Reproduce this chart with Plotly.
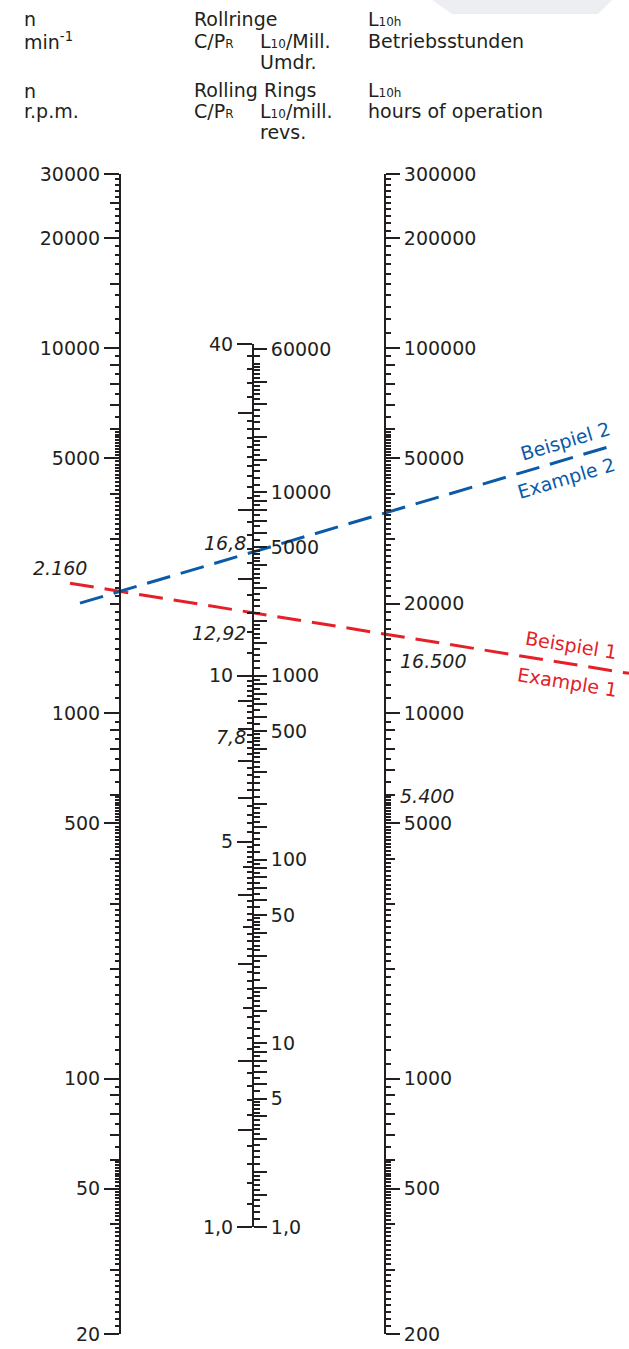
import math
import plotly.graph_objects as go

W, H = 629, 1349
INK = "#231f20"
RED = "#e42129"
BLUE = "#0a5aa8"
FONT = "DejaVu Sans"
FS = 19

# ---------------- data ----------------
n_range = [20, 30000]          # n  [min^-1]
l10h_range = [200, 300000]     # L10h [h]
cp_range = [1, 40]             # C/P_R
l10_range = [1, 64000]         # L10 [mill. revs] = (C/P)^3

n_ticks = [20, 50, 100, 500, 1000, 5000, 10000, 20000, 30000]
n_tick_text = ["20", "50", "100", "500", "1000", "5000", "10000", "20000", "30000"]
l10h_ticks = [200, 500, 1000, 5000, 10000, 20000, 50000, 100000, 200000, 300000]
l10h_tick_text = ["200", "500", "1000", "5000", "10000", "20000", "50000", "100000", "200000", "300000"]
cp_ticks = [1, 5, 10, 40]
cp_tick_text = ["1,0", "5", "10", "40"]
l10_ticks = [1, 5, 10, 50, 100, 500, 1000, 5000, 10000, 60000]
l10_tick_text = ["1,0", "5", "10", "50", "100", "500", "1000", "5000", "10000", "60000"]

# secondary scale marks
n_mid_mult = [2, 3, 4, 6, 7, 8, 9]
n_mid_extra = [15000, 25000]
cp_long_unlabelled = [1.5, 2, 3, 4, 6, 7, 8, 9, 15, 20, 30]
cp_mid = [2.5, 3.5, 4.5]
l10_long_mult = [1.5, 2, 3, 4, 6, 7, 8, 9]

# worked examples
ex_top = ["Beispiel 1", "Beispiel 2"]
ex_bottom = ["Example 1", "Example 2"]
ex_n = [2160, 2160]
ex_cp = [12.92, 16.8]
ex_l10h = [16500, 35400]
ex_colors = [RED, BLUE]
n_marks = [2160]
n_mark_text = ["2.160"]
cp_marks = [16.8, 12.92, 7.8]
cp_mark_text = ["16,8", "12,92", "7,8"]
l10h_marks = [16500, 5400]
l10h_mark_text = ["16.500", "5.400"]

# ---------------- layout geometry ----------------
X_L, X_M, X_R = 120 / W, 253 / W, 385 / W
DOM_LR = [1 - 1334 / H, 1 - 174 / H]
DOM_M = [1 - 1227 / H, 1 - 344 / H]
LINE_X0 = [70 / W, 80 / W]
LINE_X1 = [629 / W, 617 / W]
TOP_LABEL_X = [571 / W, 565 / W]
BOT_LABEL_X = [567 / W, 566 / W]


def steps(a, b, s):
    out, k = [], 0
    while True:
        v = round(a + k * s, 6)
        if v > b + 1e-9:
            break
        out.append(v)
        k += 1
    return out


def ruler(lo, hi, pattern):
    vals = set()
    d = 10 ** math.floor(math.log10(lo))
    while d <= hi:
        for m0, m1, st in pattern:
            for m in steps(m0, m1, st):
                v = round(m * d, 6)
                if lo - 1e-9 <= v <= hi + 1e-9:
                    vals.add(v)
        d *= 10
    return sorted(vals)


def minus(a, *others):
    excl = set()
    for o in others:
        excl |= set(round(x, 6) for x in o)
    return sorted(v for v in set(round(x, 6) for x in a) if v not in excl)


def mults(lo, hi, ms):
    return ruler(lo, hi, [(m, m, 1) for m in ms])


fine_pat = [(1, 6, 0.1), (6, 10, 0.5)]
n_mid = minus(mults(*n_range, n_mid_mult) + n_mid_extra, n_ticks)
n_small = minus(ruler(*n_range, fine_pat), n_ticks, n_mid)
h_mid = minus(mults(*l10h_range, n_mid_mult), l10h_ticks)
h_small = minus(ruler(*l10h_range, fine_pat), l10h_ticks, h_mid)
cp_small = minus(steps(1, 5, 0.1) + steps(5, 10, 0.2) + steps(10, 20, 1) + steps(20, 30, 1) + steps(30, 40, 2),
                 cp_ticks, cp_long_unlabelled, cp_mid)
l10_long_un = minus(mults(*l10_range, l10_long_mult), l10_ticks)
l10_small = minus(ruler(*l10_range, [(1, 2, 0.1), (2, 5, 0.2), (5, 10, 0.5)]), l10_ticks, l10_long_un)


def lg(r):
    return [math.log10(r[0]), math.log10(r[1])]


def axis(rng, vals, text, length, side, pos, base=None, domain=None, line=False, width=2):
    d = dict(type="log", range=lg(rng), anchor="free", position=pos, side=side,
             tickmode="array", tickvals=vals, ticks="outside", ticklen=length, tickwidth=width,
             tickcolor=INK, showgrid=False, zeroline=False, showline=line, linecolor=INK,
             linewidth=2, fixedrange=True, showticklabels=text is not None, automargin=False,
             tickfont=dict(family=FONT, size=FS, color=INK))
    if text is not None:
        d["ticktext"] = text
    if base:
        d["overlaying"] = base
    if domain:
        d["domain"] = domain
    return d


fig = go.Figure()
axes = {
    "yaxis": axis(n_range, n_ticks, n_tick_text, 15, "left", X_L, domain=DOM_LR, line=True),
    "yaxis2": axis(n_range, n_mid, None, 10, "left", X_L, base="y"),
    "yaxis3": axis(n_range, n_small, None, 5, "left", X_L, base="y", width=1.8),
    "yaxis4": axis(l10h_range, l10h_ticks, l10h_tick_text, 14, "right", X_R, base="y", line=True),
    "yaxis5": axis(l10h_range, h_mid, None, 9, "right", X_R, base="y"),
    "yaxis6": axis(l10h_range, h_small, None, 5, "right", X_R, base="y", width=1.8),
    "yaxis7": axis(cp_range, cp_ticks, cp_tick_text, 15, "left", X_M, domain=DOM_M, line=True),
    "yaxis8": axis(cp_range, cp_long_unlabelled, None, 15, "left", X_M, base="y7"),
    "yaxis9": axis(cp_range, cp_mid, None, 10, "left", X_M, base="y7"),
    "yaxis10": axis(cp_range, cp_small, None, 6, "left", X_M, base="y7", width=1.8),
    "yaxis11": axis(l10_range, l10_ticks, l10_tick_text, 13, "right", X_M, base="y7"),
    "yaxis12": axis(l10_range, l10_long_un, None, 13, "right", X_M, base="y7"),
    "yaxis13": axis(l10_range, l10_small, None, 6, "right", X_M, base="y7", width=1.8),
}
for k in axes:
    yid = "y" + k[5:]
    fig.add_trace(go.Scatter(x=[], y=[], xaxis="x", yaxis=yid, showlegend=False, hoverinfo="skip"))


def frac(v, r):
    a, b = lg(r)
    return (math.log10(v) - a) / (b - a)


def unfrac(f, r):
    a, b = lg(r)
    return 10 ** (a + f * (b - a))


PX_PER_LOG = (DOM_LR[1] - DOM_LR[0]) * H / (lg(n_range)[1] - lg(n_range)[0])

annotations = []
for i in range(len(ex_n)):
    yl = math.log10(ex_n[i])
    yr = math.log10(unfrac(frac(ex_l10h[i], l10h_range), n_range))
    slope = (yr - yl) / (X_R - X_L)

    def line_y(xx, yl=yl, slope=slope):
        return 10 ** (yl + slope * (xx - X_L))

    xs = [LINE_X0[i], X_L, X_R, LINE_X1[i]]
    fig.add_trace(go.Scatter(x=xs, y=[line_y(x) for x in xs], mode="lines", xaxis="x", yaxis="y",
                             line=dict(color=ex_colors[i], width=3, dash="24px,11px"),
                             showlegend=False, hoverinfo="skip", cliponaxis=False))
    ang = math.degrees(math.atan(-slope * PX_PER_LOG / W))
    for txt, xx, sh in [(ex_top[i], TOP_LABEL_X[i], 19), (ex_bottom[i], BOT_LABEL_X[i], -19)]:
        annotations.append(dict(x=xx, y=math.log10(line_y(xx)), xref="x", yref="y", text=txt,
                                showarrow=False, textangle=ang, yshift=sh,
                                font=dict(family=FONT, size=FS, color=ex_colors[i])))

ital = dict(family=FONT, size=FS, color=INK)
for v, t in zip(n_marks, n_mark_text):
    annotations.append(dict(x=60 / W, y=math.log10(v), xref="x", yref="y", text="<i>%s</i>" % t,
                            showarrow=False, yshift=23, font=ital))
for v, t, sh in zip(cp_marks, cp_mark_text, [9, -18, -2]):
    annotations.append(dict(x=248 / W, y=math.log10(v), xref="x", yref="y7", text="<i>%s</i>" % t,
                            showarrow=False, xanchor="right", yshift=sh, font=ital))
for v, t, sh in zip(l10h_marks, l10h_mark_text, [-27, 15]):
    annotations.append(dict(x=398 / W, y=math.log10(v), xref="x", yref="y4", text="<i>%s</i>" % t,
                            showarrow=False, xanchor="left", yshift=sh, font=ital))


def small(s):
    return "<span style='font-size:12px'>%s</span>" % s


header = [
    (22, 19, "n"), (22, 41, "min<sup>-1</sup>"), (22, 91, "n"), (22, 111, "r.p.m."),
    (192, 19, "Rollringe"), (192, 41, "C/P" + small("R")), (258, 41, "L" + small("10") + "/Mill."),
    (258, 62, "Umdr."), (192, 90, "Rolling Rings"), (192, 111, "C/P" + small("R")),
    (258, 111, "L" + small("10") + "/mill."), (258, 132, "revs."),
    (366, 19, "L" + small("10h")), (366, 41, "Betriebsstunden"), (366, 90, "L" + small("10h")),
    (366, 111, "hours of operation"),
]
for x, y, t in header:
    annotations.append(dict(x=x / W, y=1 - y / H, xref="paper", yref="paper", text=t, showarrow=False,
                            xanchor="left", yanchor="middle", font=dict(family=FONT, size=FS, color=INK)))

fig.update_layout(
    width=W, height=H, margin=dict(l=0, r=0, t=0, b=0, pad=0, autoexpand=False), showlegend=False,
    paper_bgcolor="white", plot_bgcolor="rgba(0,0,0,0)",
    xaxis=dict(range=[0, 1], domain=[0, 1], visible=False, fixedrange=True),
    annotations=annotations,
    shapes=[dict(type="path", xref="paper", yref="paper", layer="below", line=dict(width=0),
                 fillcolor="#eceef1",
                 path="M %f,1 L %f,1 L %f,%f L %f,%f Z" % (432 / W, 612 / W, 598 / W, 1 - 14 / H,
                                                            452 / W, 1 - 14 / H))],
    **axes,
)
fig.write_html("out.html", config={"displayModeBar": False},
               post_script="document.body.style.margin='0';")
